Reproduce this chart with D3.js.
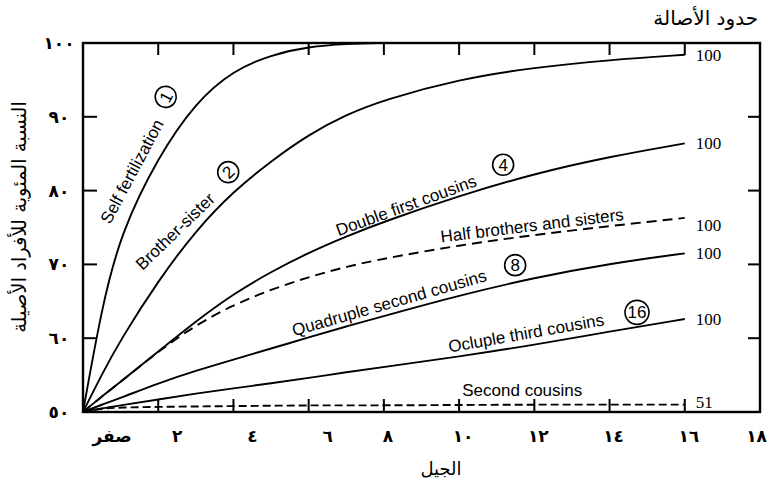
<!DOCTYPE html>
<html>
<head>
<meta charset="utf-8">
<script src="https://cdn.jsdelivr.net/npm/d3@7/dist/d3.min.js"></script>
<style>
  body { margin: 0; background: #fff; }
  .curve { fill: none; stroke: #000; stroke-width: 1.9; }
  .ar { font-family: "DejaVu Sans", sans-serif; }
  .lbl { font-family: "Liberation Sans", "DejaVu Sans", sans-serif; font-size: 17px; }
</style>
</head>
<body>
<svg id="chart"></svg>
<script>
// generations (x) and percent homozygous (y)
const generations = [0, 0.5, 1, 2, 3, 4, 5, 6, 7, 8, 10, 12, 14, 16]
const selfFertilization = [50, 64.2, 74.2, 84.6, 92.0, 96.3, 98.4, 99.5, 99.9, 100, null, null, null, null]
const brotherSister = [50, 55.1, 59.8, 67.8, 74.6, 79.9, 84.0, 87.6, 90.3, 92.3, 95.1, 96.7, 97.7, 98.4]
const doubleFirstCousins = [50, 52.1, 54.1, 58.2, 62.3, 66.0, 69.0, 71.6, 73.8, 75.8, 79.3, 82.3, 84.6, 86.4]
const halfSibs = [50, 52.1, 54.1, 58.2, 61.8, 64.5, 66.6, 68.3, 69.7, 70.8, 72.6, 74.0, 75.2, 76.3]
const quadSecondCousins = [50, 51.0, 51.9, 53.9, 55.6, 57.1, 58.6, 60.1, 61.6, 63.0, 65.8, 68.2, 70.1, 71.5]
const ocluThirdCousins = [50, 50.5, 50.9, 51.7, 52.5, 53.2, 53.9, 54.6, 55.4, 56.1, 57.5, 59.1, 60.9, 62.6]
const secondCousins = [50, 50.5, 50.6, 50.7, 50.75, 50.8, 50.85, 50.9, 50.9, 50.9, 50.95, 51, 51, 51]

const limitLabels = ["100", "100", "100", "100", "100", "51"]   // brother-sister .. second cousins

const xTicks = [0, 2, 4, 6, 8, 10, 12, 14, 16, 18]
const xTickLabels = ["صفر", "٢", "٤", "٦", "٨", "١٠", "١٢", "١٤", "١٦", "١٨"]
const yTicks = [50, 60, 70, 80, 90, 100]
const yTickLabels = ["٥٠", "٦٠", "٧٠", "٨٠", "٩٠", "١٠٠"]

const width = 769, height = 487
const svg = d3.select("#chart").attr("width", width).attr("height", height)

const x = d3.scaleLinear().domain([0, 18]).range([83, 760])
const y = d3.scaleLinear().domain([50, 100]).range([412, 43])

const series = [
  { values: selfFertilization, dash: null },
  { values: brotherSister, dash: null },
  { values: doubleFirstCousins, dash: null },
  { values: halfSibs, dash: "10,6" },
  { values: quadSecondCousins, dash: null },
  { values: ocluThirdCousins, dash: null },
  { values: secondCousins, dash: "8,4" }
]

const line = d3.line()
  .defined(d => d[1] != null)
  .x(d => x(d[0]))
  .y(d => y(d[1]))
  .curve(d3.curveBasis)

svg.append("g")
  .selectAll("path")
  .data(series)
  .enter().append("path")
  .attr("class", "curve")
  .attr("stroke-dasharray", d => d.dash)
  .attr("d", d => line(generations.map((g, i) => [g, d.values[i]])))

// frame
svg.append("rect")
  .attr("x", x(0)).attr("y", y(100))
  .attr("width", x(18) - x(0)).attr("height", y(50) - y(100))
  .attr("fill", "none").attr("stroke", "#000").attr("stroke-width", 2.4)

// inward ticks
const ticks = svg.append("g").attr("stroke", "#000").attr("stroke-width", 2)
const innerX = xTicks.filter(v => v > 0 && v < 18)
const innerY = yTicks.filter(v => v > 50 && v < 100)
ticks.selectAll(".tb").data(innerX).enter().append("line")
  .attr("x1", d => x(d)).attr("x2", d => x(d)).attr("y1", y(50)).attr("y2", y(50) - 13)
ticks.selectAll(".tt").data(innerX).enter().append("line")
  .attr("x1", d => x(d)).attr("x2", d => x(d)).attr("y1", y(100)).attr("y2", y(100) + 12)
ticks.selectAll(".tl").data(innerY).enter().append("line")
  .attr("x1", x(0)).attr("x2", x(0) + 14).attr("y1", d => y(d)).attr("y2", d => y(d))
ticks.selectAll(".tr").data(innerY).enter().append("line")
  .attr("x1", x(18)).attr("x2", x(18) - 12).attr("y1", d => y(d)).attr("y2", d => y(d))

// tick labels
svg.append("g").selectAll("text")
  .data(yTicks)
  .enter().append("text")
  .attr("class", "ar")
  .attr("x", 59).attr("y", d => y(d)).attr("dy", "0.35em")
  .attr("text-anchor", "middle").attr("font-size", 17).attr("font-weight", "bold")
  .attr("letter-spacing", 4)
  .text((d, i) => yTickLabels[i])

svg.append("g").selectAll("text")
  .data(xTicks)
  .enter().append("text")
  .attr("class", "ar")
  .attr("x", d => d === 0 ? x(0) + 29 : d === 18 ? 767 : x(d) + (d <= 6 ? 19 : 4))
  .attr("y", 442)
  .attr("text-anchor", d => d === 18 ? "end" : "middle")
  .attr("font-size", 17).attr("font-weight", "bold")
  .attr("letter-spacing", 2)
  .text((d, i) => xTickLabels[i])

// axis titles
svg.append("text").attr("class", "ar")
  .attr("transform", "translate(19,217) rotate(-90)")
  .attr("text-anchor", "middle").attr("dy", "0.35em").attr("font-size", 19.5)
  .text("النسبة المئوية للأفراد الأصيلة")

svg.append("text").attr("class", "ar")
  .attr("x", 441).attr("y", 475).attr("text-anchor", "middle").attr("font-size", 18)
  .text("الجيل")

svg.append("text").attr("class", "ar")
  .attr("x", 758).attr("y", 25).attr("text-anchor", "end").attr("font-size", 20)
  .text("حدود الأصالة")

// limit values at the right end of each curve
const last = generations.length - 1
svg.append("g").selectAll("text")
  .data(series.slice(1))
  .enter().append("text")
  .attr("x", x(16) + 11)
  .attr("y", (d, i) => y(d.values[last]) + (i === 2 ? 7 : 0) + (i === 5 ? -3 : 0))
  .attr("dy", "0.35em")
  .attr("font-family", "Liberation Serif, serif").attr("font-size", 17)
  .text((d, i) => limitLabels[i])

// curve annotations
const notes = [
  { text: "Self fertilization", g: 1.3, v: 82.6, rot: -62, circ: "1", cg: 2.2, cv: 92.7 },
  { text: "Brother-sister", g: 2.45, v: 74.5, rot: -44, circ: "2", cg: 3.86, cv: 82.5 },
  { text: "Double first cousins", g: 8.59, v: 78.0, rot: -20, circ: "4", cg: 11.17, cv: 83.5 },
  { text: "Half brothers and sisters", g: 11.94, v: 75.3, rot: -7 },
  { text: "Quadruple second cousins", g: 8.14, v: 64.8, rot: -16, circ: "8", cg: 11.49, cv: 69.9 },
  { text: "Ocluple third cousins", g: 11.78, v: 60.7, rot: -10, circ: "16", cg: 14.73, cv: 63.5 },
  { text: "Second cousins", g: 11.68, v: 53.0, rot: 0 }
]

const note = svg.append("g")
note.selectAll("text")
  .data(notes)
  .enter().append("text")
  .attr("class", "lbl")
  .attr("text-anchor", "middle").attr("dy", "0.35em")
  .attr("transform", d => `translate(${x(d.g)},${y(d.v)}) rotate(${d.rot})`)
  .text(d => d.text)

const circ = note.selectAll(".circ")
  .data(notes.filter(d => d.circ))
  .enter().append("g")
  .attr("transform", d => `translate(${x(d.cg)},${y(d.cv)}) rotate(${d.rot < -30 ? d.rot : 0})`)
circ.append("circle")
  .attr("r", d => d.circ.length > 1 ? 12 : 10.5)
  .attr("fill", "#fff").attr("stroke", "#000").attr("stroke-width", 1.6)
circ.append("text")
  .attr("class", "lbl").attr("font-size", 16)
  .attr("text-anchor", "middle").attr("dy", "0.36em")
  .text(d => d.circ)
</script>
</body>
</html>
